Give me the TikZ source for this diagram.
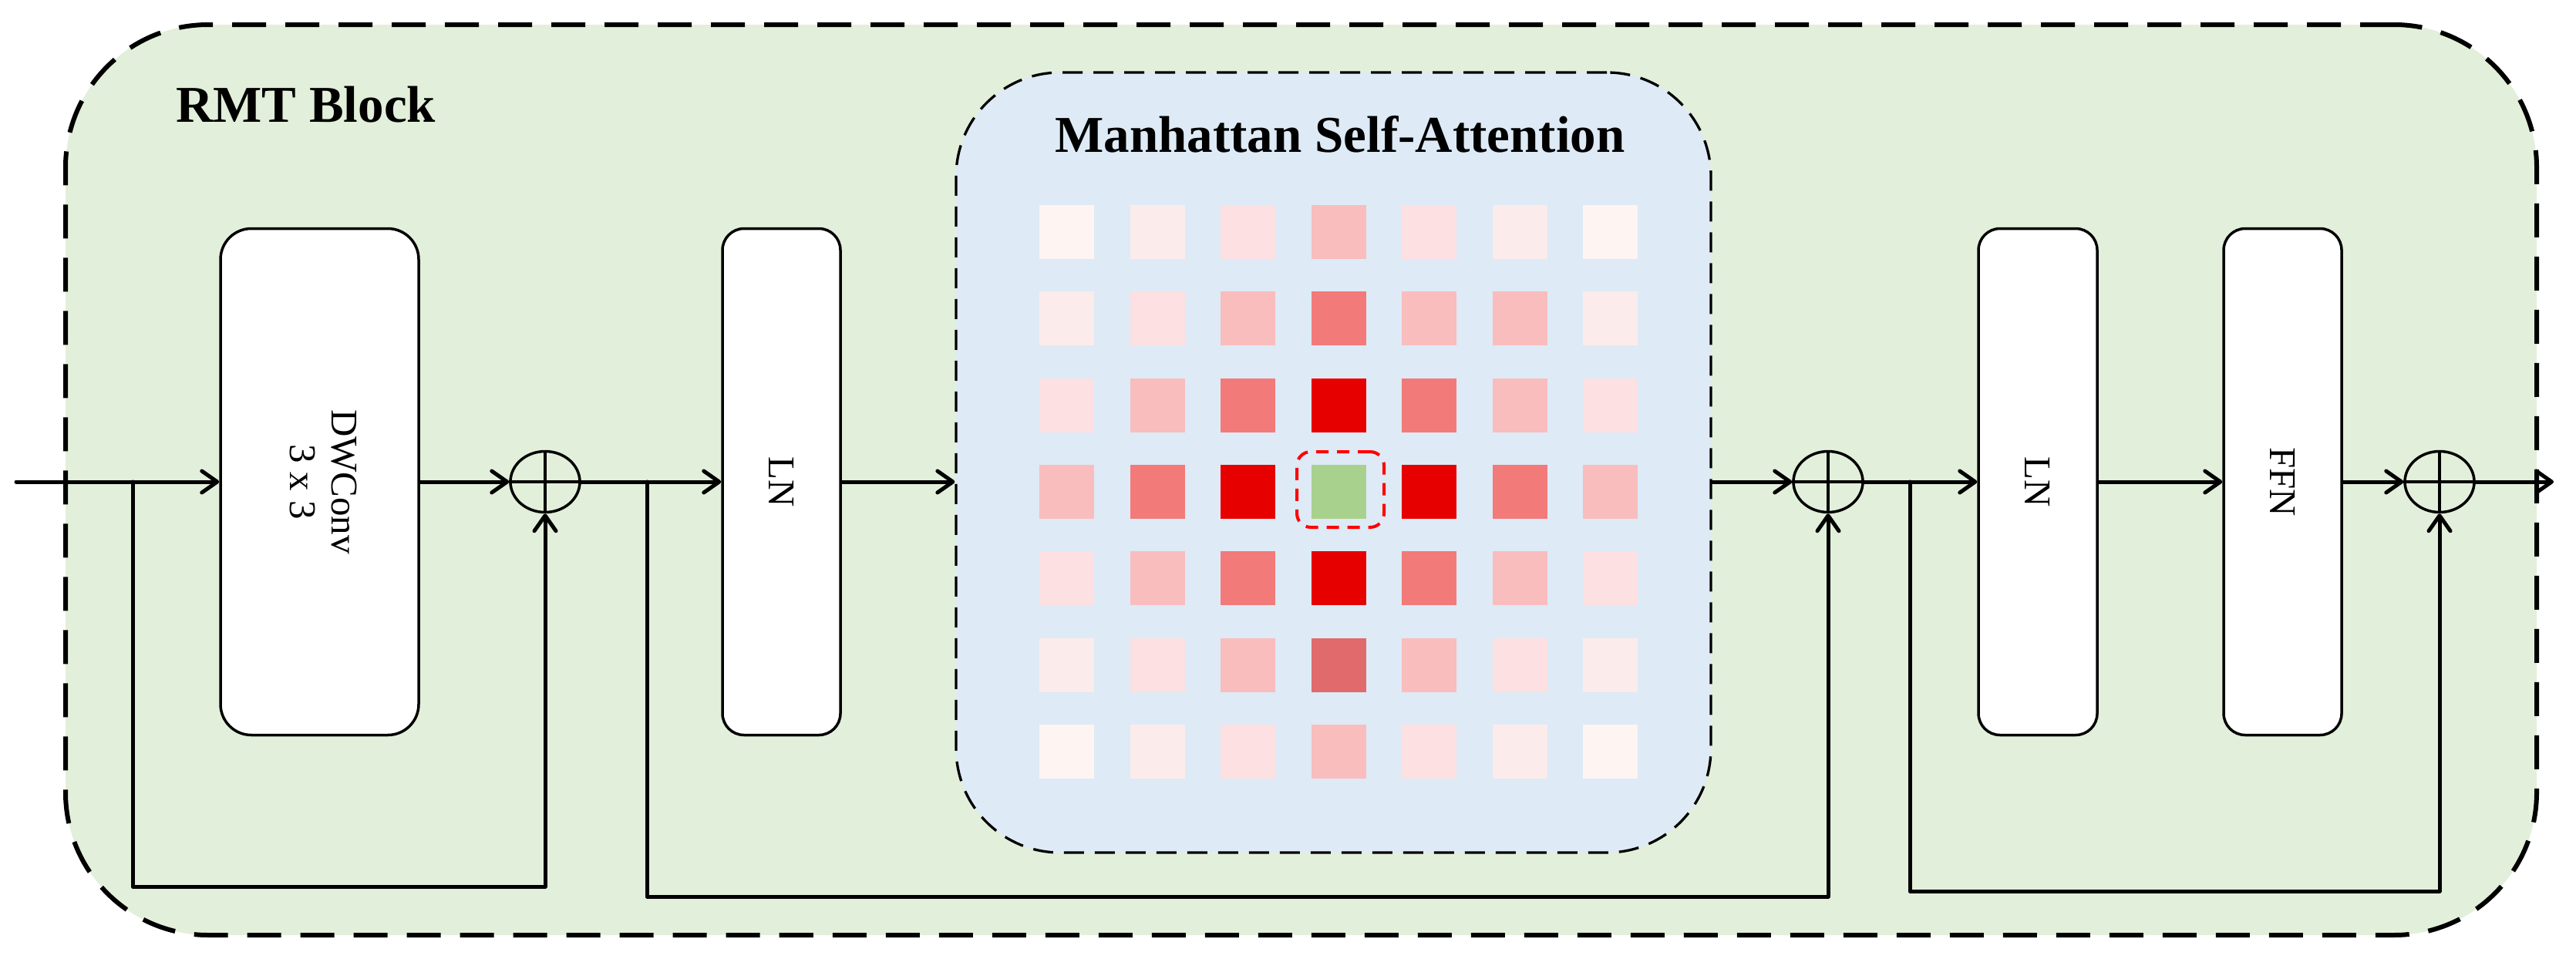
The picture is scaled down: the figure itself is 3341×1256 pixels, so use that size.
\documentclass[tikz,border=0pt]{standalone}
\usepackage{fontspec}
\setmainfont{Liberation Serif}
\usetikzlibrary{arrows.meta,shapes.geometric}
\definecolor{outerbg}{HTML}{E2EFDA}
\definecolor{msabg}{HTML}{DEEAF6}
\definecolor{a6}{HTML}{FEF4F2}
\definecolor{a5}{HTML}{FCEBEB}
\definecolor{a4}{HTML}{FDE0E1}
\definecolor{a3}{HTML}{F9BDBD}
\definecolor{a2}{HTML}{F27A79}
\definecolor{a1}{HTML}{E60000}
\definecolor{ad}{HTML}{E06A6C}
\definecolor{ag}{HTML}{A9D18E}
\definecolor{redline}{HTML}{FF0000}
\begin{document}
\begin{tikzpicture}[x=1pt,y=-1pt,
  outerbox/.style={draw=black, fill=outerbg, line width=6pt, dash pattern=on 44pt off 25pt, rounded corners=185pt, inner sep=0pt},
  msabox/.style={draw=black, fill=msabg, line width=3.3pt, dash pattern=on 26pt off 14pt, rounded corners=135pt, inner sep=0pt},
  blockbox/.style={draw=black, fill=white, line width=3.5pt, minimum height=657pt, inner sep=0pt, font=\fontsize{49}{54}\selectfont, align=center},
  plusnode/.style={draw=black, ellipse, line width=3.5pt, minimum width=90pt, minimum height=79pt, inner sep=0pt},
  crossline/.style={line width=3.5pt},
  sq/.style={minimum width=71pt, minimum height=70pt, inner sep=0pt, draw=none},
  title/.style={font=\fontsize{67}{80}\selectfont\bfseries, inner sep=0pt},
  conn/.style={line width=5pt, line cap=round, line join=round},
  arr/.style={conn, -{Straight Barb[length=20pt,width=28pt,round]}},
]
\useasboundingbox (0,0) rectangle (3341,1256);

% outer RMT block
\node[outerbox, minimum width=3205pt, minimum height=1181pt] (outer) at (1687.5,622.5) {};
\node[title, anchor=base west] (rmt) at (228,158) {RMT Block};

% Manhattan self-attention container
\node[msabox, minimum width=979pt, minimum height=1012pt] (msa) at (1729.5,600) {};
\node[title, anchor=base] (msat) at (1738,197) {Manhattan Self-Attention};

% grid of squares
\foreach \col [count=\c] in {a6,a5,a4,a3,a4,a5,a6}
  \node[sq, fill=\col] (s1\c) at ({1736+117.5*(\c-4)},301) {};
\foreach \col [count=\c] in {a5,a4,a3,a2,a3,a3,a5}
  \node[sq, fill=\col] (s2\c) at ({1736+117.5*(\c-4)},413) {};
\foreach \col [count=\c] in {a4,a3,a2,a1,a2,a3,a4}
  \node[sq, fill=\col] (s3\c) at ({1736+117.5*(\c-4)},526) {};
\foreach \col [count=\c] in {a3,a2,a1,ag,a1,a2,a3}
  \node[sq, fill=\col] (s4\c) at ({1736+117.5*(\c-4)},638) {};
\foreach \col [count=\c] in {a4,a3,a2,a1,a2,a3,a4}
  \node[sq, fill=\col] (s5\c) at ({1736+117.5*(\c-4)},750) {};
\foreach \col [count=\c] in {a5,a4,a3,ad,a3,a4,a5}
  \node[sq, fill=\col] (s6\c) at ({1736+117.5*(\c-4)},863) {};
\foreach \col [count=\c] in {a6,a5,a4,a3,a4,a5,a6}
  \node[sq, fill=\col] (s7\c) at ({1736+117.5*(\c-4)},975) {};
\node[draw=redline, line width=4pt, dash pattern=on 16pt off 11pt, rounded corners=18pt,
      minimum width=113pt, minimum height=98pt, inner sep=0pt] (focus) at (1738.5,635) {};

% blocks
\node[blockbox, minimum width=257pt, rounded corners=40pt] (dw) at (414.5,625) {\rotatebox{-90}{\begin{tabular}{@{}c@{}}DWConv\\3 x 3\end{tabular}}};
\node[blockbox, minimum width=153pt, rounded corners=28pt] (ln1) at (1013.5,625) {\rotatebox{-90}{LN}};
\node[blockbox, minimum width=154pt, rounded corners=28pt] (ln2) at (2643,625) {\rotatebox{-90}{LN}};
\node[blockbox, minimum width=153pt, rounded corners=28pt] (ffn) at (2960.5,625) {\rotatebox{-90}{FFN}};

% adders
\node[plusnode] (p1) at (707,625) {};
\node[plusnode] (p2) at (2371,625) {};
\node[plusnode] (p3) at (3164,625) {};
\foreach \p in {p1,p2,p3}{
  \draw[crossline] (\p.north) -- (\p.south);
  \draw[crossline] (\p.west) -- (\p.east);
}

% coordinates
\coordinate (in) at (21,625);
\coordinate (out) at (3312,625);
\coordinate (b1) at (172,625);
\coordinate (k1) at (172,1150);
\coordinate (b2) at (839,625);
\coordinate (k2) at (839,1163);
\coordinate (b3) at (2477,625);
\coordinate (k3) at (2477,1156);

% main path
\draw[arr] (in) -- (dw.west);
\draw[arr] (dw.east) -- (p1.west);
\draw[arr] (p1.east) -- (ln1.west);
\draw[arr] (ln1.east) -- (ln1.east -| msa.west);
\draw[arr] (msa.east |- p2.west) -- (p2.west);
\draw[arr] (p2.east) -- (ln2.west);
\draw[arr] (ln2.east) -- (ffn.west);
\draw[arr] (ffn.east) -- (p3.west);
\draw[arr] (p3.east) -- (out);

% residual connections
\draw[arr] (b1) -- (k1) -| (p1.south);
\draw[arr] (b2) -- (k2) -| (p2.south);
\draw[arr] (b3) -- (k3) -| (p3.south);
\end{tikzpicture}
\end{document}
